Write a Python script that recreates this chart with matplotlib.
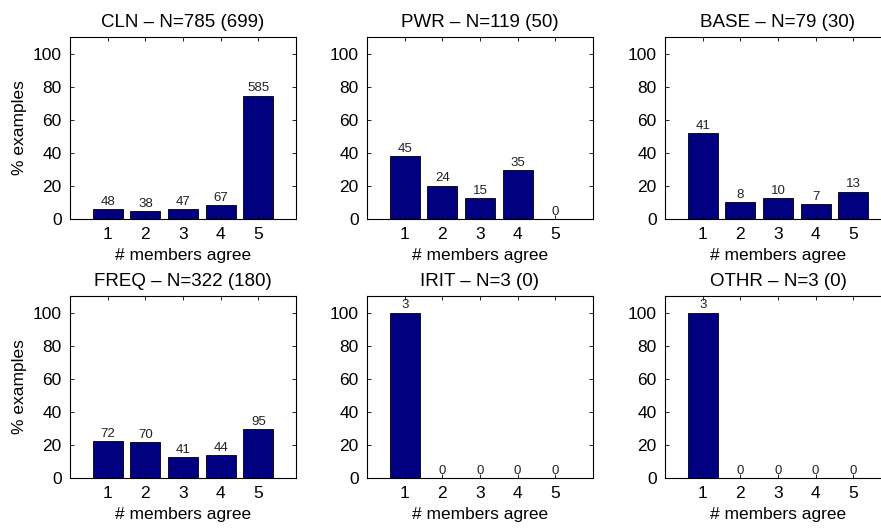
import numpy as np
import matplotlib
matplotlib.use("Agg")
import matplotlib.pyplot as plt

plt.rcParams['font.family'] = ['Liberation Sans', 'DejaVu Sans']

# counts of examples per number of agreeing members, one list per class
classes = ["CLN", "PWR", "BASE", "FREQ", "IRIT", "OTHR"]
extra = [699, 50, 30, 180, 0, 0]
members = [1, 2, 3, 4, 5]
cln = [48, 38, 47, 67, 585]
pwr = [45, 24, 15, 35, 0]
base = [41, 8, 10, 7, 13]
freq = [72, 70, 41, 44, 95]
irit = [3, 0, 0, 0, 0]
othr = [3, 0, 0, 0, 0]
counts = [cln, pwr, base, freq, irit, othr]

W, H = 881, 529
fig = plt.figure(figsize=(W / 100, H / 100), dpi=100)

lefts = [70, 367, 665]
tops = [37, 296]
aw, ah = 226, 182

for k, (name, ex, c) in enumerate(zip(classes, extra, counts)):
    row, col = divmod(k, 3)
    ax = fig.add_axes([lefts[col] / W, (H - tops[row] - ah) / H, aw / W, ah / H])
    c = np.array(c)
    n = c.sum()
    pct = c / n * 100
    ax.bar(members, pct, width=0.8, color='#000080', edgecolor='black', linewidth=0.6)
    for x, p, v in zip(members, pct, c):
        ax.text(x, p + 0.8, str(v), ha='center', va='bottom', fontsize=9.5, color='#222222')
    ax.set_xlim(0, 6)
    ax.set_ylim(0, 110)
    ax.set_xticks(members)
    ax.set_yticks(range(0, 101, 20))
    ax.tick_params(direction='in', length=3, width=0.6, labelsize=12.5,
                   top=True, right=True, pad=6)
    for s in ax.spines.values():
        s.set_linewidth(0.8)
    ax.set_title(f"{name} \u2013 N={n} ({ex})", fontsize=13.5, pad=7)
    ax.set_xlabel("# members agree", fontsize=12.5, labelpad=4)
    if col == 0:
        ax.set_ylabel("% examples", fontsize=12.5, labelpad=4)

fig.savefig("out.png", dpi=100)
